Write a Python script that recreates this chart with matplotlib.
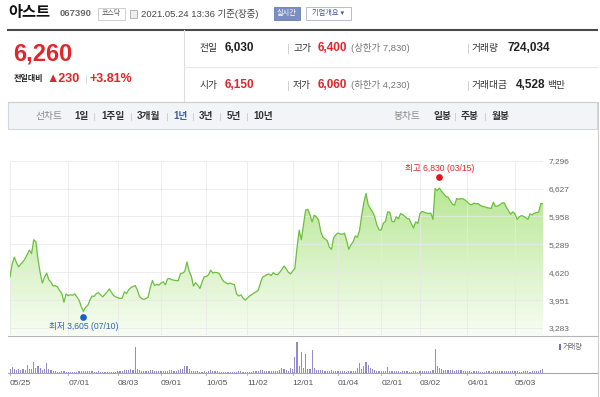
import matplotlib
matplotlib.use('Agg')
import matplotlib.pyplot as plt
import numpy as np
from matplotlib.colors import LinearSegmentedColormap
from matplotlib.patches import Rectangle, Polygon

plt.rcParams['font.family'] = ['Liberation Sans', 'Noto Sans CJK KR', 'DejaVu Sans']

# daily close, 2020-05-25 .. 2021-05-24 (trading days)
close_prices = [
    4510, 4820, 4980, 4850, 4750,
    4820, 4870, 4950, 5050, 5150, 5070, 5400, 5350, 4920, 4600, 4360, 4500, 4600, 4440, 4380, 4290, 4300, 4270, 4180, 4110, 3900, 4100,
    4060, 4080, 4070, 4100, 4030, 3950, 3800, 3680, 3780, 3820, 3950, 4050, 4040, 4110, 4130, 4080, 4030, 4090, 4150, 4220, 4140, 4060, 4030,
    4010, 3990, 4000, 4150, 4110, 4200, 4250, 4280, 4300, 4200, 4040, 3990, 3970, 3990, 4020, 4250, 4420, 4300, 4330, 4310,
    4360, 4390, 4320, 4460, 4470, 4440, 4430, 4420, 4420, 4590, 4600, 4640, 4870, 4640, 4530, 4290, 4370, 4310, 4230, 4380, 4510,
    4520, 4560, 4670, 4600, 4620, 4610, 4590, 4480, 4400, 4370, 4340, 4360, 4340, 4320, 4100, 4050, 4080, 4000, 3950,
    4000, 4050, 4080, 4120, 4150, 4180, 4350, 4500, 4530, 4560, 4580, 4540, 4610, 4570, 4560, 4620, 4690, 4770, 4700, 4620, 4580,
    4650, 4710, 5200, 5630, 5400, 5750, 6110, 6130, 6000, 5830, 5990, 5950, 5870, 5600, 5460, 5420, 5380, 5220, 5170, 5450, 5520,
    5560, 5540, 5530, 5560, 5380, 5170, 5280, 5350, 5490, 5460, 5630, 5990, 6300, 6510, 6240, 6150, 6070, 5950, 5760, 5640,
    5630, 5800, 5840, 6070, 6060, 5840, 5830, 5950, 5900, 6030, 6000, 5960, 5910, 5900, 5780, 5680, 5830, 5790,
    6030, 6080, 6060, 6040, 6030, 6040, 5890, 6630, 6580, 6640, 6560, 6500, 6440, 6420, 6340, 6250, 6230, 6390, 6370, 6390, 6380, 6350,
    6300, 6250, 6240, 6280, 6260, 6270, 6220, 6200, 6190, 6170, 6160, 6150, 6300, 6200, 6210, 6240, 6280, 6290, 6180, 6100, 6010, 6070,
    6020, 5890, 5950, 5980, 5960, 5930, 5890, 6020, 6000, 6040, 6050, 6060, 6270, 6260,
]

# daily volume, thousand shares
volumes = [
    700, 1100, 800, 550, 650,
    600, 750, 620, 1450, 700, 680, 1980, 900, 1260, 820, 560, 720, 1800, 640, 480, 420, 300, 260, 240, 280, 330, 250,
    220, 180, 200, 240, 260, 300, 380, 420, 360, 320, 300, 280, 260, 240, 300, 260, 220, 210, 240, 220, 200, 230, 260,
    300, 280, 420, 560, 480, 620, 700, 520, 4700, 760, 600, 420, 380, 350, 400, 480, 520, 380, 300, 280,
    320, 380, 450, 400, 520, 480, 420, 380, 600, 760, 650, 1250, 1300, 700, 420, 360, 300, 280, 260, 240, 300,
    260, 300, 520, 380, 320, 280, 240, 220, 200, 210, 190, 180, 200, 230, 260, 300, 340, 260, 220,
    240, 220, 260, 300, 280, 340, 520, 480, 420, 380, 440, 400, 360, 420, 380, 460, 820, 640, 500, 420, 900,
    650, 2900, 5600, 1200, 3800, 900, 3400, 800, 650, 4100, 900, 600, 520, 480, 540, 420, 380, 400, 460, 380, 350,
    380, 300, 280, 320, 260, 300, 400, 360, 420, 900, 1800, 700, 1200, 2000, 1500, 950, 700, 480, 420, 380,
    350, 320, 420, 1100, 400, 320, 300, 280, 300, 260, 280, 300, 320, 260, 240, 280, 300, 260,
    320, 380, 300, 340, 420, 360, 520, 4300, 1300, 950, 700, 560, 500, 460, 520, 480, 440, 600, 520, 460, 420, 380,
    300, 280, 260, 320, 300, 280, 260, 240, 260, 280, 300, 260, 420, 320, 300, 280, 340, 360, 300, 280, 320, 300,
    280, 300, 260, 240, 280, 320, 300, 260, 280, 300, 320, 340, 520, 724,
]

tick_pos = [0, 27, 50, 70, 91, 110, 131, 152, 172, 190, 212, 234]
tick_labels = ['05/25', '07/01', '08/03', '09/01', '10/05', '11/02', '12/01',
               '01/04', '02/01', '03/02', '04/01', '05/03']
price_ticks = [3283, 3951, 4620, 5289, 5958, 6627, 7296]

low_idx, low_value, low_date = 34, 3605, '07/10'
high_idx, high_value, high_date = 199, 6830, '03/15'

RED = '#e0262b'
W, H = 600, 397


def rect(x0, y0, x1, y1):
    return [x0 / W, 1 - y1 / H, (x1 - x0) / W, (y1 - y0) / H]


fig = plt.figure(figsize=(6, 3.97), dpi=100)
bg = fig.add_axes([0, 0, 1, 1])
bg.set_xlim(0, W)
bg.set_ylim(H, 0)
bg.axis('off')


def txt(x, y, s, size=7, color='#333', bold=False, ha='left'):
    bg.text(x, y, s, fontsize=size, color=color, ha=ha, va='center',
            fontweight='bold' if bold else 'normal')


def sep(x, y, h=4.5, color='#d0d0d0'):
    bg.plot([x, x], [y - h, y + h], color=color, lw=0.7)


# header
txt(8, 13, '아스트', size=11, color='#111', bold=True)
txt(60, 14, '067390', size=6.8, color='#666', bold=True)
bg.add_patch(Rectangle((98, 8), 27, 12, fc='white', ec='#c8c8c8', lw=0.6))
txt(111.5, 14, '코스닥', size=5, color='#555', ha='center')
bg.add_patch(Rectangle((130, 10), 7, 8, fc='#eeeeee', ec='#aaaaaa', lw=0.6))
txt(141, 14, '2021.05.24 13:36 기준(장중)', size=6.8, color='#444')
bg.add_patch(Rectangle((274, 7), 26, 13, fc='#7b8ec2', ec='#6a7db3', lw=0.6))
txt(287, 13.5, '실시간', size=5.2, color='white', ha='center')
bg.add_patch(Rectangle((306, 7), 45, 13, fc='white', ec='#a9b3cf', lw=0.6))
txt(328.5, 13.5, '기업개요 ▾', size=5.2, color='#3d5595', ha='center')
bg.plot([8, 597], [29.5, 29.5], color='#4a4a4a', lw=1.5)

# current price box
txt(13, 54, '6,260', size=17, color=RED, bold=True)
txt(14, 79, '전일대비', size=5.8, color='#222', bold=True)
txt(46, 79, '▲230', size=9, color=RED, bold=True)
sep(86, 79, 4, '#dddddd')
txt(90, 79, '+3.81%', size=9, color=RED, bold=True)
bg.plot([184, 184], [30, 102], color='#dddddd', lw=0.8)
bg.plot([184, 597], [66.5, 66.5], color='#e6e6e6', lw=0.8)
bg.plot([8, 597], [102, 102], color='#cfcfcf', lw=0.8)

rows = [
    (48, [('전일', '6,030', '#222'), ('고가', '6,400', RED), ('거래량', '724,034', '#222')]),
    (85, [('시가', '6,150', RED), ('저가', '6,060', RED), ('거래대금', '4,528', '#222')]),
]
for y, cells in rows:
    (l1, v1, c1), (l2, v2, c2), (l3, v3, c3) = cells
    txt(200, y, l1, color='#333')
    txt(225, y, v1, size=8.5, color=c1, bold=True)
    sep(288, y)
    txt(293, y, l2, color='#333')
    txt(318, y, v2, size=8.5, color=c2, bold=True)
    sep(468, y)
    txt(472, y, l3, color='#333')
    txt(507 if l3 == '거래량' else 516, y, v3, size=8.5, color=c3, bold=True)
txt(351, 48, '(상한가 7,830)', size=6.8, color='#777')
txt(351, 85, '(하한가 4,230)', size=6.8, color='#777')
txt(547, 85, '백만', size=7, color='#333')

# tab bar
bg.add_patch(Rectangle((8, 102), 589, 27, fc='#f3f4f7', ec='#d3d6de', lw=0.8))
ty = 116
txt(36, ty, '선차트', color='#888')
for x, s, c in [(74, '1일', '#333'), (101, '1주일', '#333'), (137, '3개월', '#333'),
                (173, '1년', '#3d5fa8'), (199, '3년', '#333'), (227, '5년', '#333'),
                (253, '10년', '#333')]:
    txt(x, ty, s, color=c, bold=True)
for x in [94, 131, 167, 193, 220, 247]:
    sep(x, ty, 3.5)
txt(393, ty, '봉차트', color='#888')
txt(433, ty, '일봉', color='#333', bold=True)
sep(455, ty, 3.5)
txt(461, ty, '주봉', color='#333', bold=True)
sep(485, ty, 3.5)
txt(492, ty, '월봉', color='#333', bold=True)

# frame lines around chart
bg.plot([597.5, 597.5], [102, 397], color='#cccccc', lw=0.8)
bg.plot([8, 597], [335.5, 335.5], color='#b5b5b5', lw=0.8)
bg.plot([8, 597], [373, 373], color='#a8a8a8', lw=0.8)

# price chart
n = len(close_prices)
x = np.arange(n)
ymin, ymax = 3115, 7296
ax = fig.add_axes(rect(10, 160.7, 543, 335))
ax.set_facecolor('none')
cmap = LinearSegmentedColormap.from_list('fill', ['#f8fdf4', '#ade384'])
grad = np.linspace(0, 1, 256).reshape(-1, 1)
im = ax.imshow(grad, aspect='auto', cmap=cmap, origin='lower',
               extent=[0, n - 1, ymin, ymax], zorder=1)
verts = [(0, ymin)] + list(zip(x, close_prices)) + [(n - 1, ymin)]
clip = Polygon(verts, closed=True, fc='none', ec='none')
ax.add_patch(clip)
im.set_clip_path(clip)
ax.plot(x, close_prices, color='#6cbf3e', lw=0.9, zorder=3)
ax.set_xlim(0, n - 1)
ax.set_ylim(ymin, ymax)
ax.set_xticks(tick_pos)
ax.set_yticks(price_ticks)
ax.set_yticklabels([f'{v:,}' for v in price_ticks])
ax.yaxis.tick_right()
ax.tick_params(axis='y', length=0, pad=4, labelsize=6, labelcolor='#666')
ax.tick_params(axis='x', length=0, labelbottom=False)
ax.grid(color='#e8e8e8', lw=0.7, alpha=0.8, zorder=2)
ax.set_axisbelow(False)
for s in ax.spines.values():
    s.set_visible(False)

# high / low markers
ax.plot([high_idx], [high_value], 'o', color='#e0141e', ms=3.8, zorder=5,
        transform=matplotlib.transforms.offset_copy(ax.transData, fig, y=3.5, units='dots'),
        clip_on=False)
ax.annotate(f'최고 {high_value:,} ({high_date})', xy=(high_idx, high_value),
            xytext=(0, 12), textcoords='offset pixels', ha='center', va='center',
            fontsize=6.2, color='#e0262b')
ax.plot([low_idx], [low_value], 'o', color='#1a5fc8', ms=3.8, zorder=5,
        transform=matplotlib.transforms.offset_copy(ax.transData, fig, y=-2, units='dots'),
        clip_on=False)
ax.annotate(f'최저 {low_value:,} ({low_date})', xy=(low_idx, low_value),
            xytext=(0, -11.5), textcoords='offset pixels', ha='center', va='center',
            fontsize=6.2, color='#2f63b8')

# volume chart
axv = fig.add_axes(rect(10, 336, 543, 373))
axv.set_facecolor('none')
axv.bar(x, volumes, width=0.55, color='#948cc8')
axv.set_xlim(0, n - 1)
axv.set_ylim(0, 6660)
axv.set_yticks([])
axv.set_xticks(tick_pos)
axv.set_xticklabels(tick_labels, ha='left')
axv.tick_params(axis='x', length=0, pad=5, labelsize=6, labelcolor='#555')
for s in axv.spines.values():
    s.set_visible(False)
for t in tick_pos:
    xp = 10 + t * 533 / (n - 1)
    bg.plot([xp, xp], [371.5, 374.5], color='#a8a8a8', lw=0.6)

bg.add_patch(Rectangle((559, 344), 2, 6, fc='#7b6fb0', ec='none'))
txt(563, 347, '거래량', size=5.2, color='#666')

fig.savefig('out.png', dpi=100)
